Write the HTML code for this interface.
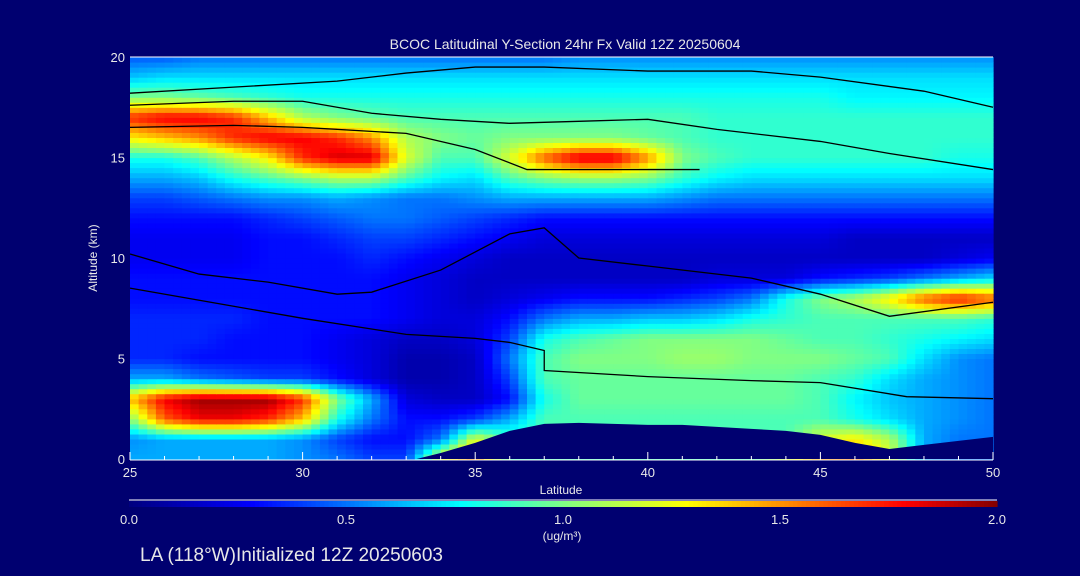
<!DOCTYPE html>
<html><head><meta charset="utf-8"><style>
html,body{margin:0;padding:0;background:#000070;}
svg{display:block;font-family:"Liberation Sans",sans-serif;}
</style></head><body>
<svg id="chart" width="1080" height="576" viewBox="0 0 1080 576">
<rect x="0" y="0" width="1080" height="576" fill="#000070"/>
<text x="565" y="49" fill="#e8e8e8" font-size="14" text-anchor="middle">BCOC Latitudinal Y-Section 24hr  Fx Valid 12Z 20250604</text>
<g id="heat"></g>
<g id="terrain"></g>
<g id="contours"></g>
<g id="axes"></g>
<text x="97" y="258" fill="#e8e8e8" font-size="12" text-anchor="middle" transform="rotate(-90 97 258)">Altitude (km)</text>
<text x="561" y="494" fill="#e8e8e8" font-size="12" text-anchor="middle">Latitude</text>
<g id="cbar"></g>
<text x="562" y="540" fill="#e8e8e8" font-size="12" text-anchor="middle">(ug/m³)</text>
<text x="140" y="561" fill="#e8e8e8" font-size="19">LA (118°W)Initialized 12Z 20250603</text>
</svg>
<script>
const lats=[25,26,27,28,29,30,31,32,33,34,35,36,37,38,39,40,41,42,43,44,45,46,47,48,49,50];
const alts=[0,1,2,3,4,5,6,7,8,9,10,11,12,13,14,15,16,17,18,19,20];
const row0=[0.6,0.6,0.6,0.6,0.6,0.55,0.5,0.4,0.4,1.3,1.6,0.9,0.9,0.9,0.9,0.9,0.9,0.9,0.9,1.2,1.5,1.6,1.2,0.6,0.5,0.5];
const row1=[0.55,0.6,0.6,0.6,0.6,0.55,0.4,0.3,0.3,0.5,1.2,0.9,0.9,0.9,0.9,0.9,0.9,0.9,0.9,0.9,1.2,1.3,1.1,0.6,0.5,0.5];
const row2=[1.0,1.6,1.8,1.8,1.7,1.4,0.8,0.5,0.3,0.3,0.4,0.6,0.9,0.9,0.9,0.9,0.9,0.9,0.9,0.9,0.9,0.8,0.7,0.6,0.55,0.5];
const row3=[1.4,1.8,1.95,1.95,1.95,1.7,1.0,0.6,0.2,0.15,0.15,0.3,0.8,0.95,0.95,0.95,0.95,0.95,0.95,0.95,0.9,0.75,0.65,0.6,0.55,0.5];
const row4=[0.6,0.6,0.5,0.45,0.4,0.4,0.3,0.2,0.1,0.1,0.15,0.4,0.9,0.95,0.95,0.95,0.95,0.95,0.95,0.95,0.9,0.85,0.7,0.6,0.55,0.5];
const row5=[0.35,0.35,0.3,0.3,0.3,0.3,0.25,0.2,0.1,0.1,0.15,0.5,0.9,1.0,1.0,1.0,1.05,1.05,1.0,1.0,1.0,0.95,0.9,0.7,0.55,0.5];
const row6=[0.35,0.35,0.35,0.3,0.3,0.3,0.25,0.2,0.15,0.15,0.2,0.4,0.8,0.9,0.95,1.0,1.0,1.0,1.0,0.95,0.9,0.9,0.85,0.8,0.75,0.7];
const row7=[0.35,0.35,0.35,0.35,0.3,0.3,0.3,0.3,0.25,0.2,0.2,0.3,0.5,0.6,0.6,0.65,0.65,0.7,0.8,0.85,0.9,0.9,0.9,0.9,0.9,0.85];
const row8=[0.3,0.3,0.3,0.3,0.3,0.3,0.3,0.3,0.25,0.2,0.15,0.2,0.25,0.3,0.3,0.3,0.35,0.4,0.5,0.8,1.0,1.1,1.3,1.6,1.75,1.6];
const row9=[0.3,0.3,0.3,0.3,0.3,0.3,0.3,0.3,0.25,0.2,0.15,0.15,0.15,0.15,0.15,0.15,0.15,0.2,0.2,0.2,0.3,0.35,0.4,0.5,0.6,0.7];
const row10=[0.25,0.25,0.25,0.25,0.3,0.3,0.3,0.35,0.3,0.25,0.2,0.15,0.15,0.15,0.15,0.15,0.15,0.15,0.15,0.15,0.15,0.15,0.15,0.15,0.2,0.25];
const row11=[0.25,0.25,0.25,0.25,0.3,0.3,0.35,0.4,0.4,0.35,0.3,0.25,0.2,0.2,0.2,0.2,0.2,0.2,0.2,0.2,0.2,0.15,0.15,0.15,0.15,0.15];
const row12=[0.3,0.3,0.3,0.3,0.35,0.4,0.45,0.5,0.5,0.45,0.4,0.35,0.3,0.3,0.3,0.3,0.3,0.3,0.3,0.3,0.3,0.3,0.3,0.3,0.3,0.3];
const row13=[0.4,0.4,0.45,0.5,0.55,0.55,0.6,0.55,0.5,0.5,0.55,0.6,0.6,0.6,0.6,0.6,0.55,0.5,0.5,0.5,0.5,0.5,0.5,0.5,0.5,0.5];
const row14=[0.6,0.6,0.65,0.8,0.9,1.0,1.1,1.1,0.9,0.75,0.7,0.9,1.0,1.05,1.05,1.0,0.85,0.75,0.7,0.7,0.7,0.7,0.7,0.7,0.7,0.7];
const row15=[0.8,0.8,0.9,1.1,1.3,1.7,1.85,1.85,1.2,0.9,0.9,1.2,1.6,1.85,1.85,1.5,1.0,0.9,0.85,0.85,0.85,0.85,0.85,0.85,0.8,0.8];
const row16=[1.3,1.4,1.5,1.7,1.8,1.8,1.7,1.5,1.1,1.0,0.95,1.0,1.0,1.0,1.0,0.95,0.9,0.85,0.85,0.85,0.85,0.85,0.85,0.85,0.85,0.85];
const row17=[1.7,1.8,1.8,1.7,1.4,1.1,1.0,0.95,0.9,0.9,0.9,0.9,0.9,0.9,0.9,0.9,0.9,0.85,0.85,0.85,0.85,0.85,0.85,0.85,0.85,0.85];
const row18=[1.0,1.0,0.95,0.9,0.85,0.8,0.8,0.8,0.8,0.8,0.8,0.8,0.8,0.8,0.8,0.8,0.8,0.8,0.8,0.8,0.8,0.75,0.75,0.75,0.75,0.75];
const row19=[0.65,0.7,0.7,0.7,0.7,0.7,0.7,0.7,0.7,0.7,0.7,0.7,0.7,0.7,0.7,0.7,0.7,0.7,0.7,0.7,0.7,0.7,0.7,0.7,0.7,0.7];
const row20=[0.45,0.45,0.5,0.5,0.5,0.5,0.5,0.5,0.5,0.5,0.5,0.5,0.5,0.55,0.55,0.55,0.55,0.55,0.55,0.55,0.55,0.55,0.55,0.55,0.55,0.55];
const grid=[row0,row1,row2,row3,row4,row5,row6,row7,row8,row9,row10,row11,row12,row13,row14,row15,row16,row17,row18,row19,row20];
const terrainLat=[33.3,34,35,36,37,38,39,40,41,42,43,44,45,46,47,48,49,50];
const terrainAlt=[0,0.3,0.8,1.4,1.75,1.8,1.75,1.7,1.7,1.6,1.5,1.4,1.2,0.8,0.5,0.7,0.9,1.1];
const xTicks=[25,30,35,40,45,50];
const yTicks=[0,5,10,15,20];
const cbTicks=[0.0,0.5,1.0,1.5,2.0];
const cL1x=[25,28,31,33,35,37,40,43,45,48,50];
const cL1y=[18.2,18.5,18.8,19.2,19.5,19.5,19.3,19.3,19.0,18.3,17.5];
const cL2x=[25,28,30,32,34,36,38,40,42,45,47,50];
const cL2y=[17.6,17.8,17.8,17.2,16.9,16.7,16.8,16.9,16.4,15.8,15.2,14.4];
const cL3x=[25,28,30,33,35,36.5,38,40,41.5];
const cL3y=[16.5,16.6,16.5,16.2,15.4,14.4,14.4,14.4,14.4];
const cL4x=[25,28,30,33,35,36,37,37,40,43,45,47.5,50];
const cL4y=[8.5,7.6,7.0,6.2,6.0,5.8,5.4,4.4,4.1,3.9,3.8,3.1,3.0];
const cL5x=[25,27,29,31,32,34,36,37,38,40,43,45,47,50];
const cL5y=[10.2,9.2,8.8,8.2,8.3,9.4,11.2,11.5,10.0,9.6,9.0,8.2,7.1,7.8];
const contourXs=[cL1x,cL2x,cL3x,cL4x,cL5x];
const contourYs=[cL1y,cL2y,cL3y,cL4y,cL5y];

const X0=130,X1=993,Y0=459,Y1=57;
const xs=v=>X0+(v-25)/25*(X1-X0);
const ys=v=>Y0-v/20*(Y0-Y1);
const NS="http://www.w3.org/2000/svg";
const stops=[[0,[0,0,128]],[0.14,[0,0,255]],[0.38,[0,255,255]],[0.51,[140,255,120]],[0.64,[255,255,0]],[0.89,[255,0,0]],[1,[128,0,0]]];
function jet(v){const t=Math.max(0,Math.min(1,v/2));
for(let k=1;k<stops.length;k++){if(t<=stops[k][0]){const a=stops[k-1],b=stops[k];const f=(t-a[0])/(b[0]-a[0]);
const c=a[1].map((x,i)=>Math.round(x+(b[1][i]-x)*f));return `rgb(${c[0]},${c[1]},${c[2]})`;}}
return 'rgb(128,0,0)';}
function val(la,al){const fi=Math.min(lats.length-1.0001,Math.max(0,la-lats[0]));const fj=Math.min(alts.length-1.0001,Math.max(0,al-alts[0]));
const i=Math.floor(fi),j=Math.floor(fj),a=fi-i,b=fj-j;
return (grid[j][i]*(1-a)+grid[j][i+1]*a)*(1-b)+(grid[j+1][i]*(1-a)+grid[j+1][i+1]*a)*b;}
const heat=document.getElementById('heat');
const step=0.25;
for(let al=0;al<20;al+=step){for(let la=25;la<50;la+=step){
const r=document.createElementNS(NS,'rect');
const x=xs(la),y=ys(al+step);
r.setAttribute('x',x.toFixed(1));r.setAttribute('y',y.toFixed(1));
r.setAttribute('width',(xs(la+step)-x+0.6).toFixed(1));r.setAttribute('height',(ys(al)-y+0.6).toFixed(1));
r.setAttribute('fill',jet(val(la+step/2,al+step/2)));


heat.appendChild(r);}}
let tp=`${xs(terrainLat[0])},${ys(0)} `+terrainLat.map((v,i)=>`${xs(v)},${ys(terrainAlt[i])}`).join(' ')+` ${xs(50)},${ys(0)}`;
const poly=document.createElementNS(NS,'polygon');poly.setAttribute('points',tp);poly.setAttribute('fill','#000070');


document.getElementById('terrain').appendChild(poly);
const cg=document.getElementById('contours');
contourXs.forEach((cx,k)=>{const pl=document.createElementNS(NS,'polyline');
pl.setAttribute('points',cx.map((v,i)=>`${xs(v)},${ys(contourYs[k][i])}`).join(' '));
pl.setAttribute('fill','none');pl.setAttribute('stroke','#000');pl.setAttribute('stroke-width','1.3');


cg.appendChild(pl);});
const ax=document.getElementById('axes');
function line(x1,y1,x2,y2,n){const l=document.createElementNS(NS,'line');l.setAttribute('x1',x1);l.setAttribute('y1',y1);l.setAttribute('x2',x2);l.setAttribute('y2',y2);l.setAttribute('stroke','#fff');l.setAttribute('stroke-width','1');


ax.appendChild(l);}
function txt(p,x,y,s,anchor,n,sz){const t=document.createElementNS(NS,'text');t.setAttribute('x',x);t.setAttribute('y',y);t.setAttribute('fill','#e8e8e8');t.setAttribute('font-size',sz||13);t.setAttribute('text-anchor',anchor);t.textContent=s;


p.appendChild(t);}
line(X0,Y0+1,X1,Y0+1,'x-axis-line');line(X0,Y1,X1,Y1,'top-axis-line');
for(let la=25;la<=50;la++){const big=xTicks.includes(la);line(xs(la),Y0+1,xs(la),Y0+1-(big?8:4),'x-tick');}
xTicks.forEach(v=>txt(ax,xs(v),Y0+18,String(v),'middle','x-tick-label'));
yTicks.forEach(v=>txt(ax,X0-5,ys(v)+5,String(v),'end','y-tick-label'));
const cb=document.getElementById('cbar');
for(let i=0;i<200;i++){const r=document.createElementNS(NS,'rect');const x=129+i*(997-129)/200;
r.setAttribute('x',x);r.setAttribute('y',501);r.setAttribute('width',(997-129)/200+0.6);r.setAttribute('height',6);r.setAttribute('fill',jet(i/100));


cb.appendChild(r);}
const bl=document.createElementNS(NS,'line');bl.setAttribute('x1',129);bl.setAttribute('x2',997);bl.setAttribute('y1',500);bl.setAttribute('y2',500);bl.setAttribute('stroke','#fff');


cb.appendChild(bl);
cbTicks.forEach(v=>txt(cb,129+v/2*(997-129),524,v.toFixed(1),'middle','colorbar-tick-label'));
</script>
</body></html>
